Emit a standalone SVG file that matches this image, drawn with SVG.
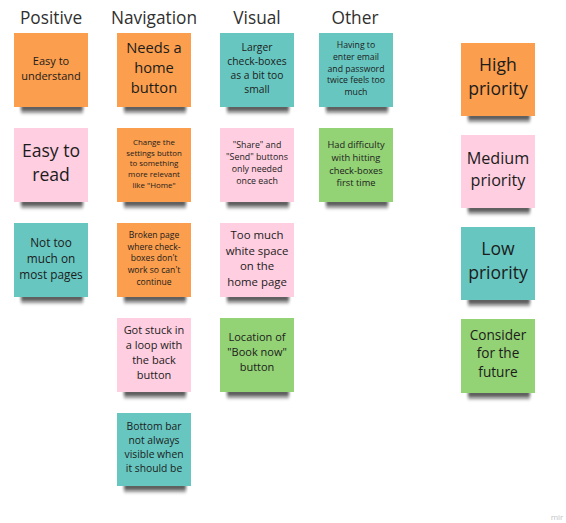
<svg xmlns="http://www.w3.org/2000/svg" width="566" height="523" viewBox="0 0 566 523">
  <style>
    text { font-family: "Open Sans", "Noto Sans", "Liberation Sans", sans-serif; fill: #1c1c1c; text-anchor: middle; }
    .head { font-size: 17.3px; fill: #303030; }
    .orange { fill: #fb9e4d; }
    .pink { fill: #ffcee0; }
    .teal { fill: #67c6c0; }
    .green { fill: #93d275; }
    .shadow { fill: #111; opacity: 0.7; filter: url(#soft); }
    .mark { font-size: 8px; fill: #c4c4c4; }
  </style>
  <defs>
    <filter id="soft" x="-20%" y="-150%" width="140%" height="400%">
      <feGaussianBlur stdDeviation="1.8 2.2"/>
    </filter>
  </defs>

  <!-- column headings -->
  <g id="headings">
    <text class="head" x="51" y="24">Positive</text>
    <text class="head" x="154" y="24">Navigation</text>
    <text class="head" x="257" y="24">Visual</text>
    <text class="head" x="355" y="24">Other</text>
  </g>

  <!-- no connectors on this board -->
  <g id="connectors"/>

  <!-- Positive -->
  <g id="p1">
    <rect class="shadow" x="21" y="104" width="62" height="8"/>
    <rect class="orange" x="14" y="33" width="74" height="74"/>
    <text font-size="11"><tspan x="51" y="64.9">Easy to</tspan><tspan x="51" y="79.9">understand</tspan></text>
  </g>
  <g id="p2">
    <rect class="shadow" x="21" y="199" width="62" height="8"/>
    <rect class="pink" x="14" y="128" width="74" height="74"/>
    <text font-size="17.6"><tspan x="51" y="157.2">Easy to</tspan><tspan x="51" y="181.2">read</tspan></text>
  </g>
  <g id="p3">
    <rect class="shadow" x="21" y="294" width="62" height="8"/>
    <rect class="teal" x="14" y="223" width="74" height="74"/>
    <text font-size="11.8"><tspan x="51" y="247.1">Not too</tspan><tspan x="51" y="263.1">much on</tspan><tspan x="51" y="279.1">most pages</tspan></text>
  </g>

  <!-- Navigation -->
  <g id="n1">
    <rect class="shadow" x="124" y="104" width="62" height="8"/>
    <rect class="orange" x="117" y="33" width="74" height="74"/>
    <text font-size="14.7"><tspan x="154" y="53.1">Needs a</tspan><tspan x="154" y="73.1">home</tspan><tspan x="154" y="93.1">button</tspan></text>
  </g>
  <g id="n2">
    <rect class="shadow" x="124" y="199" width="62" height="8"/>
    <rect class="orange" x="117" y="128" width="74" height="74"/>
    <text font-size="7.9"><tspan x="154" y="144.8">Change the</tspan><tspan x="154" y="155.5">settings button</tspan><tspan x="154" y="166.2">to something</tspan><tspan x="154" y="176.9">more relevant</tspan><tspan x="154" y="187.6">like "Home"</tspan></text>
  </g>
  <g id="n3">
    <rect class="shadow" x="124" y="294" width="62" height="8"/>
    <rect class="orange" x="117" y="223" width="74" height="74"/>
    <text font-size="8.6"><tspan x="154" y="238">Broken page</tspan><tspan x="154" y="249.7">where check-</tspan><tspan x="154" y="261.4">boxes don't</tspan><tspan x="154" y="273.1">work so can't</tspan><tspan x="154" y="284.8">continue</tspan></text>
  </g>
  <g id="n4">
    <rect class="shadow" x="124" y="389" width="62" height="8"/>
    <rect class="pink" x="117" y="318" width="74" height="74"/>
    <text font-size="11"><tspan x="154" y="333.9">Got stuck in</tspan><tspan x="154" y="348.9">a loop with</tspan><tspan x="154" y="363.9">the back</tspan><tspan x="154" y="378.9">button</tspan></text>
  </g>
  <g id="n5">
    <rect class="shadow" x="124" y="483" width="62" height="8"/>
    <rect class="teal" x="117" y="413" width="74" height="73"/>
    <text font-size="10.3"><tspan x="154" y="429.6">Bottom bar</tspan><tspan x="154" y="443.6">not always</tspan><tspan x="154" y="457.6">visible when</tspan><tspan x="154" y="471.6">it should be</tspan></text>
  </g>

  <!-- Visual -->
  <g id="v1">
    <rect class="shadow" x="227" y="104" width="62" height="8"/>
    <rect class="teal" x="220" y="33" width="74" height="74"/>
    <text font-size="10.3"><tspan x="257" y="50.6">Larger</tspan><tspan x="257" y="64.6">check-boxes</tspan><tspan x="257" y="78.6">as a bit too</tspan><tspan x="257" y="92.6">small</tspan></text>
  </g>
  <g id="v2">
    <rect class="shadow" x="227" y="199" width="62" height="8"/>
    <rect class="pink" x="220" y="128" width="74" height="74"/>
    <text font-size="8.8"><tspan x="257" y="148.1">"Share" and</tspan><tspan x="257" y="160.1">"Send" buttons</tspan><tspan x="257" y="172.1">only needed</tspan><tspan x="257" y="184.1">once each</tspan></text>
  </g>
  <g id="v3">
    <rect class="shadow" x="227" y="294" width="62" height="8"/>
    <rect class="pink" x="220" y="223" width="74" height="74"/>
    <text font-size="11.4"><tspan x="257" y="239">Too much</tspan><tspan x="257" y="254.5">white space</tspan><tspan x="257" y="270">on the</tspan><tspan x="257" y="285.5">home page</tspan></text>
  </g>
  <g id="v4">
    <rect class="shadow" x="227" y="389" width="62" height="8"/>
    <rect class="green" x="220" y="318" width="74" height="74"/>
    <text font-size="11"><tspan x="257" y="340.9">Location of</tspan><tspan x="257" y="355.9">"Book now"</tspan><tspan x="257" y="370.9">button</tspan></text>
  </g>

  <!-- Other -->
  <g id="o1">
    <rect class="shadow" x="326" y="104" width="62" height="8"/>
    <rect class="teal" x="319" y="33" width="74" height="74"/>
    <text font-size="8.7"><tspan x="356" y="48">Having to</tspan><tspan x="356" y="59.8">enter email</tspan><tspan x="356" y="71.6">and password</tspan><tspan x="356" y="83.4">twice feels too</tspan><tspan x="356" y="95.2">much</tspan></text>
  </g>
  <g id="o2">
    <rect class="shadow" x="326" y="199" width="62" height="8"/>
    <rect class="green" x="319" y="128" width="74" height="74"/>
    <text font-size="9.3"><tspan x="356" y="148.3">Had difficulty</tspan><tspan x="356" y="161">with hitting</tspan><tspan x="356" y="173.7">check-boxes</tspan><tspan x="356" y="186.4">first time</tspan></text>
  </g>

  <!-- Priority key -->
  <g id="k1">
    <rect class="shadow" x="468" y="113" width="62" height="8"/>
    <rect class="orange" x="461" y="43" width="74" height="73"/>
    <text font-size="17.6"><tspan x="498" y="71.2">High</tspan><tspan x="498" y="95.2">priority</tspan></text>
  </g>
  <g id="k2">
    <rect class="shadow" x="468" y="205" width="62" height="8"/>
    <rect class="pink" x="461" y="135" width="74" height="73"/>
    <text font-size="16.2"><tspan x="498" y="163.7">Medium</tspan><tspan x="498" y="185.7">priority</tspan></text>
  </g>
  <g id="k3">
    <rect class="shadow" x="468" y="297" width="62" height="8"/>
    <rect class="teal" x="461" y="227" width="74" height="73"/>
    <text font-size="17.6"><tspan x="498" y="255.2">Low</tspan><tspan x="498" y="279.2">priority</tspan></text>
  </g>
  <g id="k4">
    <rect class="shadow" x="468" y="390" width="62" height="8"/>
    <rect class="green" x="461" y="319" width="74" height="74"/>
    <text font-size="13.6"><tspan x="498" y="339.8">Consider</tspan><tspan x="498" y="358.3">for the</tspan><tspan x="498" y="376.8">future</tspan></text>
  </g>

  <text class="mark" x="557" y="520">mir</text>
</svg>
